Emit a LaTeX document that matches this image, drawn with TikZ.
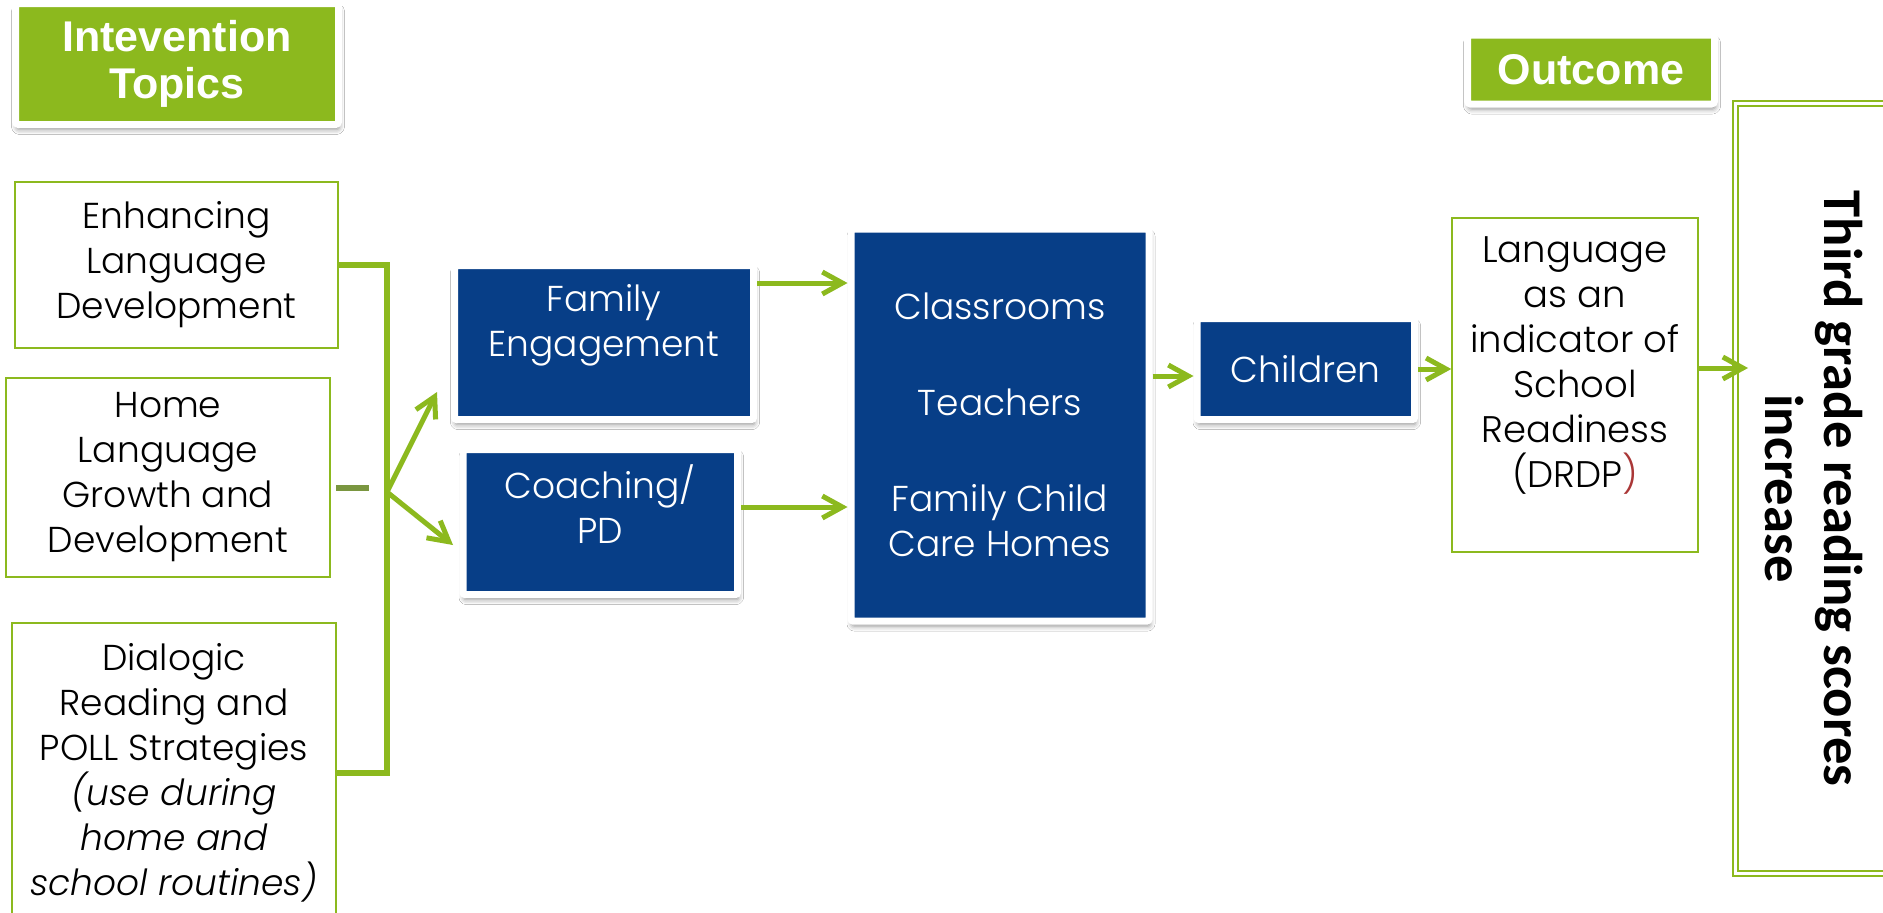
\documentclass[tikz,border=0pt]{standalone}
\usepackage{fontspec}
\setmainfont{Poppins Light}
\newfontfamily\headfont{Liberation Sans}
\newfontfamily\goalfont{Carlito}
\usepackage{tikz}
\usetikzlibrary{arrows.meta,shadows.blur,calc}
\definecolor{leafgreen}{RGB}{140,185,30}
\definecolor{navyblue}{RGB}{7,62,135}
\definecolor{stubgreen}{RGB}{122,150,64}
\definecolor{parenred}{RGB}{170,55,55}

\begin{document}
\begin{tikzpicture}[
    x=0.5pt, y=-0.5pt,
    header/.style={rectangle, fill=leafgreen, draw=white, line width=3.5pt, rounded corners=1.5pt, align=center, text=white, font=\headfont\bfseries\fontsize{21.5}{23.5}\selectfont, blur shadow={shadow xshift=0.5pt, shadow yshift=-2.5pt, shadow blur radius=2.5pt, shadow opacity=45}},
    topic/.style={rectangle, draw=leafgreen, line width=1pt, fill=white, align=center, font=\fontsize{18}{22.5}\selectfont},
    bluebox/.style={rectangle, fill=navyblue, draw=white, line width=3.5pt, rounded corners=1pt, align=center, text=white, font=\fontsize{18}{22.5}\selectfont, blur shadow={shadow xshift=0.5pt, shadow yshift=-2.5pt, shadow blur radius=2.5pt, shadow opacity=45}},
    arr/.style={draw=leafgreen, line width=2.5pt, -{Straight Barb[length=10pt,width=11pt]}},
    bar/.style={draw=leafgreen, line width=3pt}
]
    \clip (0,0) rectangle (1883,912);
    \fill[white] (0,0) rectangle (1883,912);

    % headers
    \node[header, minimum width=161.5pt, minimum height=60.5pt] (topics) at (177,64) {Intevention\\Topics};
    \node[header, minimum width=123.5pt, minimum height=34.5pt] (outcome) at (1591,69.5) {Outcome};

    % intervention topics
    \node[topic, minimum width=161.5pt, minimum height=83pt] (enhance) at (176.5,265) {Enhancing\\Language\\Development};
    \node[topic, minimum width=162pt, minimum height=99.5pt] (home) at (168,477.5) {Home\\Language\\Growth and\\Development};
    \node[topic, minimum width=162pt, minimum height=150pt] (dialogic) at (174,773) {Dialogic\\Reading and\\POLL Strategies\\\textit{(use during}\\\textit{home and}\\\textit{school routines)}};

    % delivery
    \node[bluebox, minimum width=149.5pt, minimum height=77pt] (fe) at (604,342.5) {Family\\Engagement\\\mbox{}};
    \node[bluebox, minimum width=137.25pt, minimum height=72.5pt] (coach) at (600.25,522) {Coaching/\\PD\\[-4.5pt]\mbox{}};
    \node[bluebox, minimum width=149pt, minimum height=196pt] (mid) at (1000,425) {Classrooms\\[25.5pt]Teachers\\[25.5pt]Family Child\\Care Homes};
    \node[bluebox, minimum width=108.75pt, minimum height=50.5pt] (kids) at (1305.75,369) {Children};

    % outcome
    \node[topic, line width=0.75pt, minimum width=123pt, minimum height=167pt, font=\fontsize{18.5}{22.5}\selectfont] (lang) at (1575,385) {Language\\as an\\indicator of\\School\\Readiness\\(DRDP{\color{parenred})}\\\mbox{}};
    \node[rotate=-90, draw=leafgreen, double=white, double distance=1.5pt, line width=1pt, minimum width=385pt, minimum height=78.25pt, align=center, font=\goalfont\bfseries\fontsize{27.3}{29.5}\selectfont] (goal) at (1813.75,488.5) {Third grade reading scores\\increase};

    % connectors
    \coordinate (jn) at (387,492);
    \coordinate (tipfe) at (437,392);
    \coordinate (tipcp) at (453,545);
    \draw[bar] (enhance.east) -| (jn) |- (dialogic.east);
    \draw[stubgreen, line width=3pt] (home.east) ++(5,10.5) -- ++(33,0);
    \draw[arr] (jn) -- (tipfe);
    \draw[arr] (jn) -- (tipcp);

    \coordinate (feout) at ([yshift=29.75pt]fe.east);
    \coordinate (cpout) at ([yshift=7.5pt]coach.east);
    \coordinate (kidsin) at ([yshift=-3.5pt]kids.west);
    \coordinate (langout) at ([yshift=8.5pt]lang.east);
    \draw[arr] (feout) -- (feout -| mid.west);
    \draw[arr] (cpout) -- (cpout -| mid.west);
    \draw[arr] (kidsin -| mid.east) -- (kidsin);
    \draw[arr] (kids.east) -- (kids.east -| lang.west);
    \draw[arr, shorten >=-6.75pt] (langout) -- (langout -| goal.south);
\end{tikzpicture}
\end{document}
